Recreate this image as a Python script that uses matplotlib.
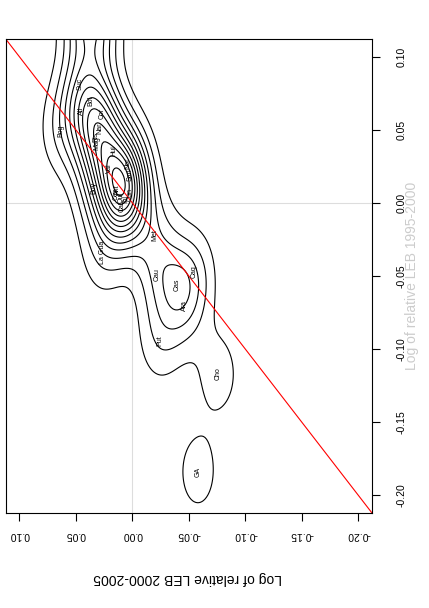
import numpy as np
import matplotlib
matplotlib.use("Agg")
import matplotlib.pyplot as plt

plt.rcParams['font.family'] = ['Liberation Sans', 'DejaVu Sans']

# departments: log relative LEB 1995-2000 (x) and 2000-2005 (y)
names = ["Bog", "Suc", "Atl", "Bol", "Cor", "Ris", "Mag", "Nar", "Hui", "Nor",
         "San", "Val", "Boy", "Ant", "Cal", "Cun", "Qui", "Tol", "Ces", "La Gua",
         "Met", "Cau", "Cas", "Ara", "Caq", "Put", "Cho", "GA"]
leb_9500 = [0.049, 0.081, 0.063, 0.070, 0.061, 0.045, 0.041, 0.051, 0.036, 0.027,
            0.019, 0.024, 0.010, 0.009, -0.003, 0.006, 0.004, 0.002, 0.006, -0.034,
            -0.022, -0.049, -0.056, -0.070, -0.047, -0.094, -0.117, -0.184]
leb_0005 = [0.063, 0.046, 0.045, 0.037, 0.027, 0.032, 0.031, 0.029, 0.016, 0.004,
            0.002, 0.020, 0.034, 0.013, 0.009, 0.002, 0.010, 0.005, 0.014, 0.026,
            -0.020, -0.022, -0.040, -0.046, -0.055, -0.024, -0.076, -0.058]
# departments lying above the plotted range (only their density shows)
off_9500 = [0.122, 0.130, 0.118, 0.140]
off_0005 = [0.042, 0.034, 0.028, 0.046]

x_ticks = [-0.20, -0.15, -0.10, -0.05, 0.00, 0.05, 0.10]
lims = (-0.212, 0.112)

# 2d gaussian kernel density (peak of a single point = 1)
sx, sy = 0.023, 0.0145
gx = np.linspace(lims[0], lims[1], 240)
gy = np.linspace(lims[0], lims[1], 240)
GX, GY = np.meshgrid(gx, gy)
Z = np.zeros_like(GX)
for px, py in zip(leb_9500 + off_9500, leb_0005 + off_0005):
    Z += np.exp(-0.5 * (((GX - px) / sx) ** 2 + ((GY - py) / sy) ** 2))
step = 0.66
levels = np.arange(step, Z.max(), step)

fig = plt.figure(figsize=(4.29, 6.08), dpi=100)
# picture is the R plot turned a quarter turn: horizontal = 2000-2005 (reversed), vertical = 1995-2000
ax = fig.add_axes([5.7 / 429, 1 - 513 / 608, (372 - 5.7) / 429, (513 - 39) / 608])
ax.set_xlim(lims[1], lims[0])
ax.set_ylim(lims[0], lims[1])

ax.axvline(0, color='#dddddd', lw=0.8, zorder=0)
ax.axhline(0, color='#dddddd', lw=0.8, zorder=0)
ax.contour(GY, GX, Z, levels=levels, colors='black', linewidths=0.8)
ax.plot([-1, 1], [-1, 1], color='red', lw=0.8)

for n, a, b in zip(names, leb_9500, leb_0005):
    ax.text(b, a, n, rotation=90, ha='center', va='center', fontsize=5)

ax.yaxis.tick_right()
ax.set_xticks(x_ticks)
ax.set_yticks(x_ticks)
ax.set_xticklabels([f"{t:.2f}" for t in x_ticks], rotation=180, fontsize=7.5)
ax.set_yticklabels([f"{t:.2f}" for t in x_ticks], rotation=90, fontsize=7.5, va='center')
ax.tick_params(direction='out', length=6, width=0.8)
ax.tick_params(axis='x', pad=6)
ax.tick_params(axis='y', pad=12)
for s in ax.spines.values():
    s.set_linewidth(0.8)

fig.text(188 / 429, 1 - 578 / 608, "Log of relative LEB 2000-2005", rotation=180,
         ha='center', va='center', fontsize=10)
fig.text(412 / 429, 1 - 276 / 608, "Log of relative LEB 1995-2000", rotation=90,
         ha='center', va='center', fontsize=10, color='#cccccc')

fig.savefig("out.png", dpi=100)
